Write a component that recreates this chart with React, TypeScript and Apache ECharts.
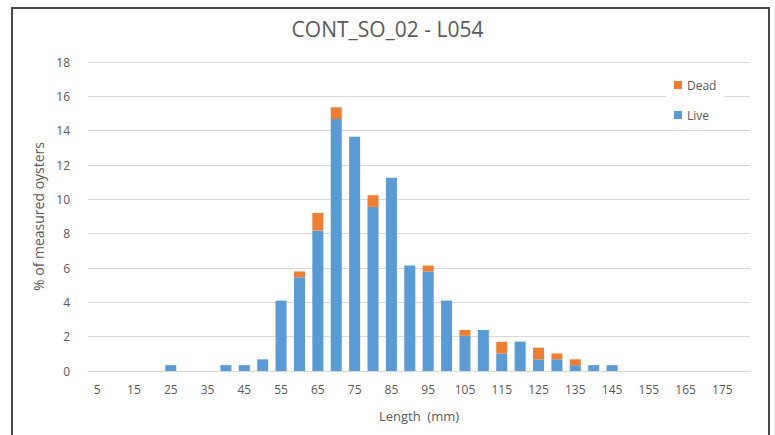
import React, { useEffect, useRef } from "react";
import * as echarts from "echarts";

const categories = [
  "5", "10", "15", "20", "25", "30", "35", "40", "45", "50", "55", "60",
  "65", "70", "75", "80", "85", "90", "95", "100", "105", "110", "115", "120",
  "125", "130", "135", "140", "145", "150", "155", "160", "165", "170", "175", "180",
];

const live = [
  0, 0, 0, 0, 0.34, 0, 0, 0.34, 0.34, 0.68, 4.1, 5.46,
  8.19, 14.68, 13.65, 9.56, 11.26, 6.14, 5.8, 4.1, 2.05, 2.39, 1.02, 1.71,
  0.68, 0.68, 0.34, 0.34, 0.34, 0, 0, 0, 0, 0, 0, 0,
];

const dead = [
  0, 0, 0, 0, 0, 0, 0, 0, 0, 0, 0, 0.34,
  1.02, 0.68, 0, 0.68, 0, 0, 0.34, 0, 0.34, 0, 0.68, 0,
  0.68, 0.34, 0.34, 0, 0, 0, 0, 0, 0, 0, 0, 0,
];

const titleText = "CONT_SO_02 - L054";
const yAxisName = "% of measured oysters";
const xAxisName = "Length  (mm)";

export default function App() {
  const ref = useRef<HTMLDivElement>(null);
  useEffect(() => {
    if (!ref.current) return;
    const chart = echarts.init(ref.current, undefined, { renderer: "svg" });
    const font = "'Open Sans', 'Noto Sans', sans-serif";
    chart.setOption({
      animation: false,
      textStyle: { fontFamily: font },
      title: {
        text: titleText,
        left: "center",
        top: 13,
        textStyle: { fontSize: 21, fontWeight: "normal", color: "#595959", fontFamily: font },
      },
      legend: {
        data: ["Dead", "Live"],
        orient: "vertical",
        left: 666,
        top: 74,
        itemWidth: 8,
        itemHeight: 8,
        itemGap: 18,
        icon: "rect",
        backgroundColor: "#ffffff",
        padding: [5, 8, 5, 8],
        textStyle: { color: "#595959", fontSize: 12, fontFamily: font },
      },
      grid: { left: 88, right: 25, top: 62, bottom: 64, containLabel: false },
      xAxis: {
        type: "category",
        data: categories,
        name: xAxisName,
        nameLocation: "middle",
        nameGap: 38,
        nameTextStyle: { color: "#595959", fontSize: 13 },
        axisLine: { lineStyle: { color: "#d9d9d9" } },
        axisTick: { show: false },
        axisLabel: { interval: 1, color: "#595959", fontSize: 12, margin: 12 },
      },
      yAxis: {
        type: "value",
        min: 0,
        max: 18,
        interval: 2,
        name: yAxisName,
        nameLocation: "middle",
        nameGap: 34,
        nameTextStyle: { color: "#595959", fontSize: 14 },
        axisLine: { show: false },
        axisTick: { show: false },
        axisLabel: { color: "#595959", fontSize: 12, margin: 18 },
        splitLine: { lineStyle: { color: "#d9d9d9" } },
      },
      series: [
        {
          name: "Live",
          type: "bar",
          stack: "total",
          data: live,
          barCategoryGap: "40%",
          itemStyle: { color: "#5B9BD5" },
        },
        {
          name: "Dead",
          type: "bar",
          stack: "total",
          data: dead,
          barCategoryGap: "40%",
          itemStyle: { color: "#ED7D31" },
        },
      ],
      graphic: [
        {
          type: "rect",
          shape: { x: 12, y: 8, width: 757, height: 450 },
          style: { fill: "none", stroke: "#474747", lineWidth: 2 },
          silent: true,
        },
      ],
    });
    return () => chart.dispose();
  }, []);
  return (
    <div
      ref={ref}
      style={{ position: "absolute", left: 0, top: 0, width: 775, height: 435, background: "#fff" }}
    />
  );
}
